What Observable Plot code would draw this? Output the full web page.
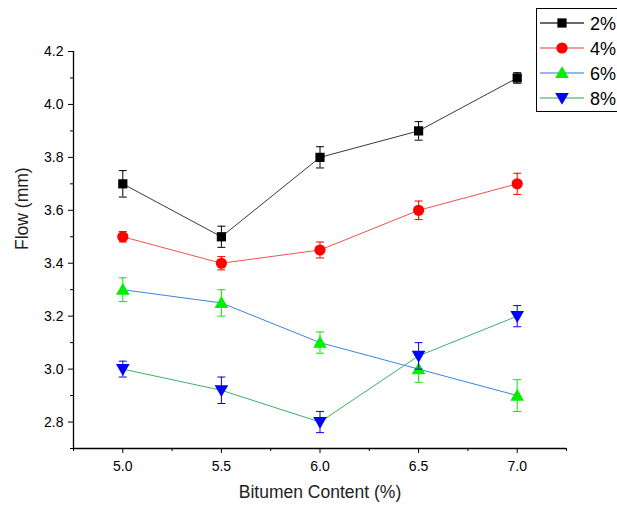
<!DOCTYPE html>
<html>
<head>
<meta charset="utf-8">
<script src="https://cdn.jsdelivr.net/npm/d3@7"></script>
<script src="https://cdn.jsdelivr.net/npm/@observablehq/plot@0.6"></script>
<style>
  html, body { margin: 0; padding: 0; background: #fff; }
  #wrap { position: relative; width: 617px; height: 509px; overflow: hidden; font-family: "Liberation Sans", Arial, sans-serif; }
  #legend { position: absolute; left: 536px; top: 8px; width: 100px; height: 104px; border: 1px solid #000; background: #fff; box-sizing: border-box; }
</style>
</head>
<body>
<div id="wrap">
  <div id="chart"></div>
  <svg id="legend" width="100" height="104"></svg>
</div>
<script>
// ---- data ----
const bitumen = [5.0, 5.5, 6.0, 6.5, 7.0];
const seriesNames = ["2%", "4%", "6%", "8%"];
const flow2 = [3.70, 3.50, 3.80, 3.90, 4.10];
const err2  = [0.05, 0.04, 0.04, 0.035, 0.02];
const flow4 = [3.50, 3.40, 3.45, 3.60, 3.70];
const err4  = [0.02, 0.025, 0.03, 0.035, 0.04];
const flow6 = [3.30, 3.25, 3.10, 3.00, 2.90];
const err6  = [0.045, 0.05, 0.04, 0.05, 0.06];
const flow8 = [3.00, 2.92, 2.80, 3.05, 3.20];
const err8  = [0.03, 0.05, 0.04, 0.05, 0.04];
const xMajorTicks = [5.0, 5.5, 6.0, 6.5, 7.0];
const yMajorTicks = [2.8, 3.0, 3.2, 3.4, 3.6, 3.8, 4.0, 4.2];
const xTitle = "Bitumen Content (%)";
const yTitle = "Flow (mm)";

// ---- styles ----
const lineColors   = ["#3a3a3a", "#f25050", "#3f82e0", "#3cb06a"];
const markerColors = ["#000000", "#ff0000", "#00ee00", "#0000ff"];

const triDown = {
  draw(ctx, size) {
    const k = Math.sqrt(size) * 0.62;
    ctx.moveTo(0, k * 1.0);
    ctx.lineTo(k, -k * 0.75);
    ctx.lineTo(-k, -k * 0.75);
    ctx.closePath();
  }
};
const triUp = {
  draw(ctx, size) {
    const k = Math.sqrt(size) * 0.62;
    ctx.moveTo(0, -k * 1.0);
    ctx.lineTo(k, k * 0.75);
    ctx.lineTo(-k, k * 0.75);
    ctx.closePath();
  }
};
const cap = { draw(ctx, size) { ctx.moveTo(-4, 0); ctx.lineTo(4, 0); } };
const symbols = ["square", "circle", triUp, triDown];
const symbolR = [5.2, 5.6, 6.2, 6.2];

const flows = [flow2, flow4, flow6, flow8];
const errs = [err2, err4, err6, err8];

const rows = [];
seriesNames.forEach((s, i) => {
  bitumen.forEach((x, j) => rows.push({ s, i, x, y: flows[i][j], e: errs[i][j] }));
});

const marks = [];
seriesNames.forEach((s, i) => {
  const data = rows.filter(d => d.s === s);
  marks.push(Plot.line(data, { x: "x", y: "y", stroke: lineColors[i], strokeWidth: 1 }));
});
seriesNames.forEach((s, i) => {
  const data = rows.filter(d => d.s === s);
  marks.push(Plot.dot(data, { x: "x", y: "y", symbol: () => symbols[i], r: symbolR[i], fill: markerColors[i], stroke: "none" }));
  marks.push(Plot.ruleX(data, { x: "x", y1: d => d.y - d.e, y2: d => d.y + d.e, stroke: markerColors[i], strokeWidth: 1 }));
  marks.push(Plot.dot(data, { x: "x", y: d => d.y - d.e, symbol: () => cap, r: 2, fill: "none", stroke: markerColors[i], strokeWidth: 1 }));
  marks.push(Plot.dot(data, { x: "x", y: d => d.y + d.e, symbol: () => cap, r: 2, fill: "none", stroke: markerColors[i], strokeWidth: 1 }));
});

const xDomain = [4.75, 7.25];
const yDomain = [2.7, 4.2];
const xMinor = d3.range(4.75, 7.2501, 0.25).filter(v => !xMajorTicks.some(t => Math.abs(t - v) < 1e-6));
const yMinor = d3.range(2.7, 4.2001, 0.1).filter(v => !yMajorTicks.some(t => Math.abs(t - v) < 1e-6));

const chart = Plot.plot({
  width: 617,
  height: 509,
  marginLeft: 73,
  marginRight: 51,
  marginTop: 51,
  marginBottom: 61,
  style: { fontFamily: "Liberation Sans, Arial, sans-serif", background: "#fff", color: "#000" },
  x: { domain: xDomain },
  y: { domain: yDomain },
  symbol: { type: "identity" },
  marks: [
    Plot.ruleX([xDomain[0]], { stroke: "#000", strokeWidth: 1.3 }),
    Plot.ruleY([yDomain[0]], { stroke: "#000", strokeWidth: 1.3 }),
    Plot.axisX({ ticks: xMajorTicks, tickSize: 5, tickPadding: 8, tickFormat: d3.format(".1f"), fontSize: 14, label: null }),
    Plot.axisX({ ticks: xMinor, tickSize: 3, tickFormat: () => "", label: null }),
    Plot.axisY({ ticks: yMajorTicks, tickSize: 5, tickPadding: 5, tickFormat: d3.format(".1f"), fontSize: 14, label: null }),
    Plot.axisY({ ticks: yMinor, tickSize: 3, tickFormat: () => "", label: null }),
    Plot.text([xTitle], { text: d => d, frameAnchor: "bottom", dy: 49, fontSize: 17.5, fill: "#222" }),
    Plot.text([yTitle], { text: d => d, frameAnchor: "left", dx: -51, rotate: -90, fontSize: 17.5, fill: "#222" }),
    ...marks
  ]
});
document.getElementById("chart").appendChild(chart);

// ---- legend ----
const leg = d3.select("#legend");
seriesNames.forEach((s, i) => {
  const y = 14 + i * 25;
  leg.append("line").attr("x1", 3).attr("x2", 47).attr("y1", y).attr("y2", y)
    .attr("stroke", lineColors[i]).attr("stroke-width", 1.5).attr("opacity", i === 0 ? 1 : 0.75);
  const sym = typeof symbols[i] === "string"
    ? (symbols[i] === "square" ? d3.symbolSquare : d3.symbolCircle)
    : symbols[i];
  const size = symbolR[i] * symbolR[i] * Math.PI;
  leg.append("path").attr("d", d3.symbol(sym, size)()).attr("transform", `translate(25,${y})`).attr("fill", markerColors[i]);
  leg.append("text").attr("x", 53).attr("y", y + 6.5).attr("font-size", 18)
    .attr("font-family", "Liberation Sans, Arial, sans-serif").text(s);
});
</script>
</body>
</html>
